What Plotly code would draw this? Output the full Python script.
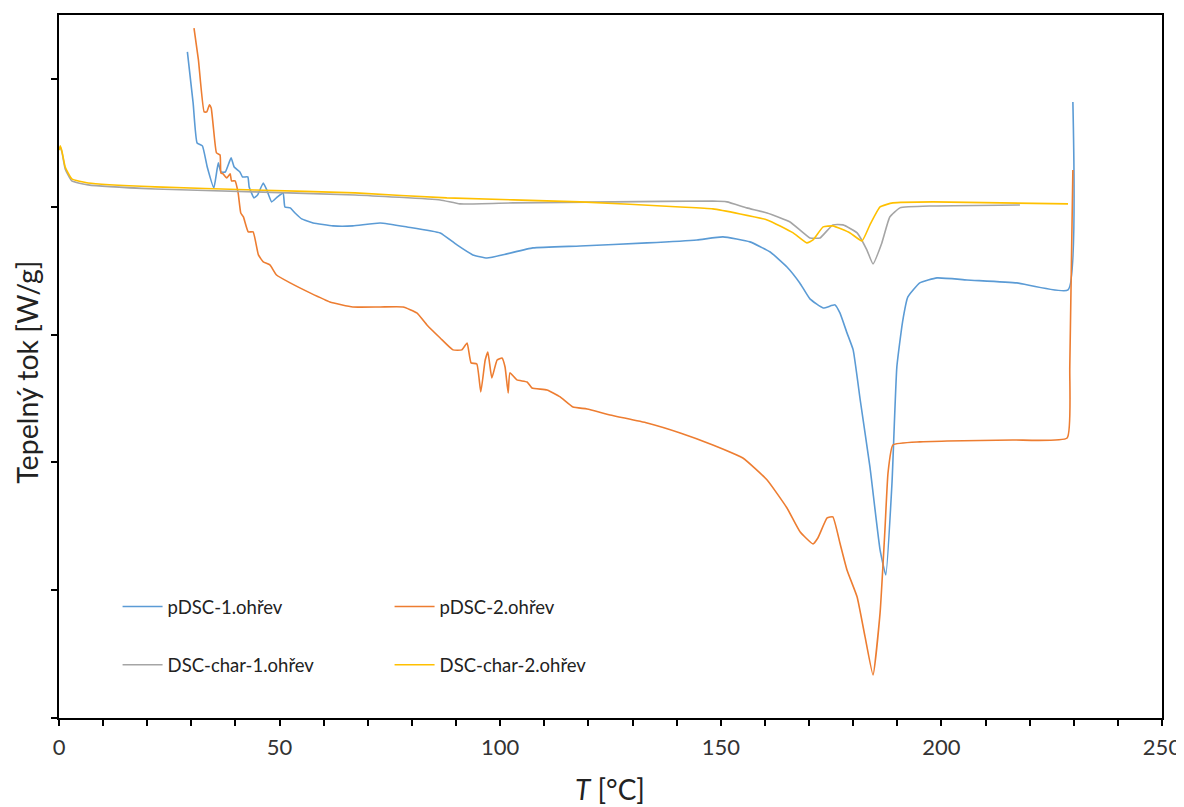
import plotly.graph_objects as go

# pDSC-1.ohřev
p1_x = [29.1, 30.4, 31.3, 32.5, 33.6, 35.1, 36.1, 36.7, 37.7, 39.0, 39.7, 41.0, 41.6, 42.8, 43.1,
        44.2, 45.0, 46.3, 47.1, 48.2, 49.5, 50.8, 51.2, 52.4, 53.5, 55.0, 57.6, 62.1, 66.6, 72.8,
        78.9, 86.4, 90.2, 93.8, 97.0, 101.5, 107.4, 118.1, 133.3, 144.6, 150.5, 156.6, 161.2, 165.0,
        167.9, 170.2, 173.2, 175.9, 177.0, 178.6, 180.0, 181.6, 183.8, 186.1, 187.4, 188.8, 189.9,
        191.2, 192.4, 195.1, 199.0, 205.8, 217.1, 228.7, 229.8]
p1_y = [5.211, 4.812, 4.499, 4.476, 4.311, 4.147, 4.343, 4.272, 4.272, 4.382, 4.311, 4.272, 4.233,
        4.233, 4.155, 4.069, 4.092, 4.186, 4.131, 4.038, 4.077, 4.108, 3.998, 3.991, 3.951, 3.905,
        3.873, 3.850, 3.850, 3.873, 3.842, 3.795, 3.701, 3.623, 3.599, 3.631, 3.678, 3.693, 3.717,
        3.740, 3.764, 3.725, 3.646, 3.529, 3.404, 3.279, 3.208, 3.232, 3.169, 3.013, 2.880, 2.488,
        1.964, 1.315, 1.119, 1.839, 2.746, 3.100, 3.294, 3.404, 3.443, 3.427, 3.404, 3.349, 4.820]

# pDSC-2.ohřev
p2_x = [30.6, 31.6, 32.9, 33.5, 34.1, 34.5, 35.0, 35.7, 36.5, 36.7, 37.2, 38.0, 38.8, 39.1, 39.9,
        40.6, 41.2, 41.8, 42.9, 44.0, 45.2, 46.3, 47.8, 49.3, 52.4, 56.9, 61.4, 66.6, 72.8, 78.0,
        81.1, 83.4, 86.4, 89.3, 91.3, 92.5, 93.4, 94.7, 95.6, 96.6, 97.2, 98.1, 99.3, 100.4, 101.1,
        101.8, 102.2, 103.8, 106.1, 107.2, 110.6, 113.6, 116.5, 119.7, 124.9, 133.3, 140.8, 148.2,
        155.0, 160.5, 165.0, 168.0, 170.9, 172.0, 174.1, 175.4, 177.0, 178.6, 180.9, 182.7, 184.5,
        186.1, 187.2, 187.9, 189.0, 195.1, 201.3, 216.2, 228.5, 229.1, 229.8]
p2_y = [5.397, 5.149, 4.742, 4.742, 4.797, 4.773, 4.617, 4.421, 4.405, 4.264, 4.257, 4.225, 4.257,
        4.202, 4.202, 4.108, 3.951, 3.920, 3.803, 3.803, 3.623, 3.568, 3.545, 3.466, 3.404, 3.326,
        3.255, 3.216, 3.216, 3.216, 3.169, 3.075, 2.973, 2.880, 2.880, 2.934, 2.778, 2.770, 2.551,
        2.801, 2.864, 2.660, 2.801, 2.817, 2.746, 2.543, 2.700, 2.645, 2.629, 2.582, 2.567, 2.512,
        2.433, 2.418, 2.371, 2.308, 2.230, 2.136, 2.034, 1.862, 1.643, 1.455, 1.362, 1.408, 1.565,
        1.573, 1.369, 1.158, 0.947, 0.634, 0.336, 0.822, 1.471, 1.917, 2.136, 2.160, 2.167, 2.175,
        2.191, 2.746, 4.288]

# DSC-char-1.ohřev
c1_x = [0.0, 0.3, 0.7, 1.4, 2.9, 6.6, 21.8, 44.4, 67.1, 86.4, 90.9, 102.9, 125.6, 148.2, 151.4,
        155.9, 160.5, 165.7, 170.2, 172.5, 175.4, 177.7, 180.9, 183.1, 184.5, 186.5, 188.3, 190.6,
        198.1, 217.8]
c1_y = [4.444, 4.468, 4.421, 4.296, 4.202, 4.171, 4.139, 4.116, 4.092, 4.053, 4.022, 4.030, 4.038,
        4.045, 4.038, 3.991, 3.951, 3.881, 3.756, 3.756, 3.858, 3.858, 3.795, 3.662, 3.552, 3.717,
        3.920, 3.991, 4.006, 4.014]

# DSC-char-2.ohřev
c2_x = [0.0, 0.3, 0.7, 1.4, 2.9, 6.6, 21.8, 44.4, 67.1, 87.9, 118.1, 140.8, 148.2, 160.5, 166.4,
        169.5, 170.9, 173.2, 175.4, 179.3, 182.0, 183.8, 186.1, 189.0, 198.1, 228.7]
c2_y = [4.444, 4.476, 4.429, 4.311, 4.218, 4.186, 4.155, 4.131, 4.108, 4.069, 4.038, 3.998, 3.983,
        3.897, 3.795, 3.717, 3.740, 3.842, 3.850, 3.795, 3.732, 3.858, 3.998, 4.030, 4.038, 4.022]

names = ["pDSC-1.ohřev", "pDSC-2.ohřev", "DSC-char-1.ohřev", "DSC-char-2.ohřev"]
colors = ["#5B9BD5", "#ED7D31", "#A5A5A5", "#FFC000"]
x_ticks = [0, 50, 100, 150, 200, 250]
y_ticks = [0, 1, 2, 3, 4, 5]
x_title = "<i>T</i> [°C]"
y_title = "Tepelný tok [W/g]"

FONT = "Lato"
fig = go.Figure()
series = [(p1_x, p1_y), (p2_x, p2_y), (c1_x, c1_y), (c2_x, c2_y)]
legends = ["legend", "legend", "legend2", "legend2"]
for (xs, ys), nm, col, lg in zip(series, names, colors, legends):
    fig.add_trace(go.Scatter(x=xs, y=ys, mode="lines", name=nm, legend=lg,
                             line=dict(color=col, width=1.6, shape="spline", smoothing=0.4)))

leg_common = dict(orientation="h", xanchor="left", yanchor="middle", bgcolor="rgba(0,0,0,0)",
                  font=dict(family=FONT, size=18.5, color="#222"), entrywidth=217,
                  entrywidthmode="pixels", itemwidth=40, tracegroupgap=0)
fig.update_layout(
    width=1176, height=799,
    margin=dict(l=51, r=22, t=7, b=89, autoexpand=False),
    paper_bgcolor="white", plot_bgcolor="white",
    showlegend=True,
    legend=dict(x=0.0531, y=0.158, **leg_common),
    legend2=dict(x=0.0531, y=0.075, **leg_common),
    xaxis=dict(range=[0, 250], tickvals=x_ticks, ticks="outside", ticklen=6, automargin=False,
               tickwidth=1.5, tickcolor="black", showline=True, linecolor="black", linewidth=1.5,
               mirror=True, showgrid=False, zeroline=False, ticklabelstandoff=3,
               minor=dict(dtick=10, ticks="outside", ticklen=6, tickwidth=1.5, tickcolor="black"),
               tickfont=dict(family=FONT, size=22, color="#333")),
    yaxis=dict(range=[0, 5.5], tickvals=y_ticks, showticklabels=False, ticks="outside",
               ticklen=6, tickwidth=1.5, tickcolor="black", showline=True, linecolor="black",
               linewidth=1.5, mirror=True, showgrid=False, zeroline=False, automargin=False),
    annotations=[
        dict(text=x_title, xref="paper", yref="paper", x=0.4995, y=-0.101, xanchor="center",
             yanchor="middle", showarrow=False, font=dict(family=FONT, size=28, color="#222")),
        dict(text=y_title, xref="paper", yref="paper", x=-0.0298, y=0.4913, xanchor="center",
             yanchor="middle", showarrow=False, textangle=-90,
             font=dict(family=FONT, size=28.5, color="#222")),
    ],
)
fig.write_html("out.html")
